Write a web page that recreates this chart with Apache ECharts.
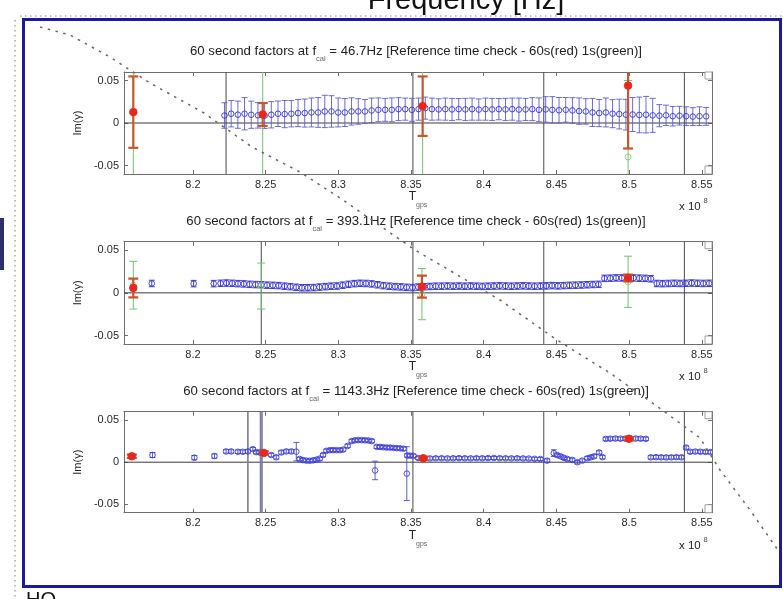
<!DOCTYPE html>
<html>
<head>
<meta charset="utf-8">
<script src="https://cdn.jsdelivr.net/npm/echarts@6/dist/echarts.min.js"></script>
<style>
html, body { margin: 0; padding: 0; background: #fff; }
#chart { width: 783px; height: 599px; }
</style>
</head>
<body>
<div id="chart"></div>
<script>
// ---- data (T_gps in units of 1e8 s, Im(gamma)) ----
const xTicks = [8.2, 8.25, 8.3, 8.35, 8.4, 8.45, 8.5, 8.55];
const yTicks = [-0.05, 0, 0.05];
const calFreqs = ['46.7', '393.1', '1143.3'];

// 60 s factors [T, Im, err] at 46.7 Hz
const blue1 = [
  [8.2217, 0.0088, 0.0150], [8.2263, 0.0109, 0.0155], [8.2309, 0.0098, 0.0160], [8.2355, 0.0109, 0.0190],
  [8.2401, 0.0097, 0.0160], [8.2447, 0.0090, 0.0150], [8.2493, 0.0086, 0.0150], [8.2539, 0.0097, 0.0155],
  [8.2585, 0.0109, 0.0150], [8.2631, 0.0105, 0.0160], [8.2677, 0.0109, 0.0155], [8.2723, 0.0117, 0.0160],
  [8.2769, 0.0117, 0.0165], [8.2815, 0.0124, 0.0170], [8.2861, 0.0124, 0.0175], [8.2907, 0.0136, 0.0190],
  [8.2953, 0.0136, 0.0185], [8.2999, 0.0124, 0.0170], [8.3045, 0.0124, 0.0165], [8.3091, 0.0136, 0.0160],
  [8.3137, 0.0136, 0.0150], [8.3183, 0.0136, 0.0140], [8.3229, 0.0148, 0.0145], [8.3275, 0.0155, 0.0140],
  [8.3322, 0.0155, 0.0135], [8.3368, 0.0155, 0.0140], [8.3414, 0.0163, 0.0135], [8.3460, 0.0163, 0.0130],
  [8.3506, 0.0155, 0.0135], [8.3552, 0.0163, 0.0130], [8.3598, 0.0175, 0.0130], [8.3644, 0.0163, 0.0130],
  [8.3690, 0.0160, 0.0125], [8.3736, 0.0163, 0.0130], [8.3782, 0.0160, 0.0130], [8.3828, 0.0163, 0.0125],
  [8.3874, 0.0160, 0.0130], [8.3920, 0.0163, 0.0130], [8.3966, 0.0158, 0.0125], [8.4012, 0.0163, 0.0130],
  [8.4058, 0.0160, 0.0130], [8.4104, 0.0163, 0.0125], [8.4150, 0.0160, 0.0130], [8.4196, 0.0163, 0.0130],
  [8.4242, 0.0158, 0.0135], [8.4288, 0.0160, 0.0130], [8.4334, 0.0163, 0.0135], [8.4380, 0.0155, 0.0140],
  [8.4426, 0.0160, 0.0150], [8.4472, 0.0155, 0.0155], [8.4518, 0.0150, 0.0150], [8.4564, 0.0155, 0.0145],
  [8.4610, 0.0148, 0.0150], [8.4656, 0.0140, 0.0155], [8.4702, 0.0136, 0.0150], [8.4748, 0.0124, 0.0165],
  [8.4794, 0.0117, 0.0160], [8.4840, 0.0124, 0.0170], [8.4886, 0.0110, 0.0165], [8.4932, 0.0105, 0.0175],
  [8.4978, 0.0098, 0.0180], [8.5024, 0.0100, 0.0200], [8.5070, 0.0095, 0.0210], [8.5116, 0.0098, 0.0215],
  [8.5162, 0.0090, 0.0200], [8.5208, 0.0086, 0.0130], [8.5254, 0.0090, 0.0120], [8.5300, 0.0080, 0.0115],
  [8.5346, 0.0086, 0.0110], [8.5392, 0.0080, 0.0110], [8.5438, 0.0075, 0.0105], [8.5484, 0.0080, 0.0110],
  [8.5530, 0.0078, 0.0105]
];
const red1 = [[8.1590, 0.0128, 0.042], [8.2480, 0.0100, 0.0135], [8.3580, 0.0198, 0.035], [8.4993, 0.0440, 0.074]];
const green1 = [[8.1590, 0.0130, 0.090], [8.2480, 0.0100, 0.100], [8.3580, 0.0200, 0.090], [8.4993, -0.0400, 0.090]];
const segLines1 = [8.2228, 8.3513, 8.4413, 8.5380];

// 60 s factors at 393.1 Hz
const blue2 = [
  [8.1717, 0.0110, 0.0038], [8.2005, 0.0108, 0.0038], [8.2143, 0.0108, 0.0038], [8.2190, 0.0112, 0.0038],
  [8.2230, 0.0115, 0.0038], [8.2270, 0.0112, 0.0038], [8.2310, 0.0108, 0.0038], [8.2350, 0.0105, 0.0038],
  [8.2390, 0.0100, 0.0038], [8.2430, 0.0097, 0.0038], [8.2470, 0.0095, 0.0038], [8.2510, 0.0090, 0.0038],
  [8.2550, 0.0088, 0.0038], [8.2590, 0.0085, 0.0038], [8.2630, 0.0078, 0.0038], [8.2670, 0.0073, 0.0038],
  [8.2710, 0.0065, 0.0038], [8.2750, 0.0060, 0.0038], [8.2790, 0.0060, 0.0038], [8.2830, 0.0062, 0.0038],
  [8.2870, 0.0068, 0.0038], [8.2910, 0.0073, 0.0038], [8.2950, 0.0078, 0.0038], [8.2990, 0.0080, 0.0038],
  [8.3030, 0.0090, 0.0038], [8.3070, 0.0100, 0.0038], [8.3110, 0.0108, 0.0038], [8.3150, 0.0112, 0.0038],
  [8.3190, 0.0110, 0.0038], [8.3230, 0.0105, 0.0038], [8.3270, 0.0095, 0.0038], [8.3310, 0.0085, 0.0038],
  [8.3350, 0.0078, 0.0038], [8.3390, 0.0073, 0.0038], [8.3430, 0.0070, 0.0038], [8.3470, 0.0065, 0.0038],
  [8.3510, 0.0062, 0.0038], [8.3550, 0.0068, 0.0038], [8.3590, 0.0072, 0.0038], [8.3630, 0.0075, 0.0038],
  [8.3670, 0.0078, 0.0038], [8.3710, 0.0078, 0.0038], [8.3750, 0.0080, 0.0038], [8.3790, 0.0078, 0.0038],
  [8.3830, 0.0080, 0.0038], [8.3870, 0.0078, 0.0038], [8.3910, 0.0080, 0.0038], [8.3950, 0.0078, 0.0038],
  [8.3990, 0.0076, 0.0038], [8.4030, 0.0078, 0.0038], [8.4070, 0.0080, 0.0038], [8.4110, 0.0082, 0.0038],
  [8.4150, 0.0080, 0.0038], [8.4190, 0.0078, 0.0038], [8.4230, 0.0080, 0.0038], [8.4270, 0.0082, 0.0038],
  [8.4310, 0.0080, 0.0038], [8.4350, 0.0078, 0.0038], [8.4390, 0.0080, 0.0038], [8.4430, 0.0082, 0.0038],
  [8.4470, 0.0085, 0.0038], [8.4510, 0.0082, 0.0038], [8.4550, 0.0085, 0.0038], [8.4590, 0.0088, 0.0038],
  [8.4630, 0.0090, 0.0038], [8.4670, 0.0092, 0.0038], [8.4710, 0.0095, 0.0038], [8.4750, 0.0098, 0.0038],
  [8.4790, 0.0100, 0.0038], [8.4830, 0.0170, 0.0038], [8.4870, 0.0172, 0.0038], [8.4910, 0.0175, 0.0038],
  [8.4950, 0.0175, 0.0038], [8.4990, 0.0178, 0.0038], [8.5030, 0.0175, 0.0038], [8.5070, 0.0172, 0.0038],
  [8.5110, 0.0170, 0.0038], [8.5150, 0.0165, 0.0038], [8.5190, 0.0110, 0.0038], [8.5230, 0.0108, 0.0038],
  [8.5270, 0.0110, 0.0038], [8.5310, 0.0112, 0.0038], [8.5350, 0.0110, 0.0038], [8.5390, 0.0112, 0.0038],
  [8.5430, 0.0115, 0.0038], [8.5470, 0.0112, 0.0038], [8.5510, 0.0110, 0.0038], [8.5550, 0.0112, 0.0038]
];
const red2 = [[8.1590, 0.0058, 0.011], [8.3575, 0.0073, 0.013], [8.4993, 0.0174, 0.004]];
const green2 = [[8.1590, 0.0090, 0.028], [8.2470, 0.0080, 0.027], [8.3575, -0.0015, 0.030], [8.4993, 0.0130, 0.030]];
const segLines2 = [8.2470, 8.3513, 8.4413, 8.5380];

// 60 s factors at 1143.3 Hz
const blue3 = [
  [8.1722, 0.0085, 0.0030], [8.2010, 0.0054, 0.0025], [8.2148, 0.0073, 0.0025], [8.2228, 0.0128, 0.0020],
  [8.2263, 0.0128, 0.0020], [8.2309, 0.0124, 0.0020], [8.2343, 0.0124, 0.0020], [8.2378, 0.0128, 0.0020],
  [8.2412, 0.0155, 0.0020], [8.2435, 0.0120, 0.0020], [8.2458, 0.0116, 0.0020], [8.2539, 0.0085, 0.0020],
  [8.2573, 0.0058, 0.0020], [8.2608, 0.0116, 0.0020], [8.2642, 0.0128, 0.0020], [8.2677, 0.0128, 0.0020],
  [8.2711, 0.0125, 0.0110], [8.2734, 0.0038, 0.0020], [8.2757, 0.0025, 0.0020], [8.2780, 0.0019, 0.0020],
  [8.2803, 0.0017, 0.0020], [8.2826, 0.0022, 0.0020], [8.2849, 0.0030, 0.0020], [8.2872, 0.0042, 0.0020],
  [8.2895, 0.0085, 0.0020], [8.2918, 0.0135, 0.0020], [8.2941, 0.0143, 0.0020], [8.2964, 0.0143, 0.0020],
  [8.2987, 0.0143, 0.0020], [8.3010, 0.0143, 0.0020], [8.3034, 0.0150, 0.0020], [8.3064, 0.0193, 0.0020],
  [8.3092, 0.0251, 0.0020], [8.3115, 0.0260, 0.0020], [8.3138, 0.0262, 0.0020], [8.3161, 0.0262, 0.0020],
  [8.3184, 0.0260, 0.0020], [8.3207, 0.0258, 0.0020], [8.3230, 0.0251, 0.0020], [8.3253, -0.0098, 0.0110],
  [8.3264, 0.0182, 0.0020], [8.3287, 0.0182, 0.0020], [8.3310, 0.0178, 0.0020], [8.3333, 0.0174, 0.0020],
  [8.3356, 0.0174, 0.0020], [8.3379, 0.0170, 0.0020], [8.3402, 0.0167, 0.0020], [8.3425, 0.0165, 0.0020],
  [8.3448, 0.0160, 0.0020], [8.3471, -0.0136, 0.0320], [8.3474, 0.0080, 0.0020], [8.3494, 0.0078, 0.0020],
  [8.3517, 0.0075, 0.0020], [8.3550, 0.0050, 0.0018], [8.3590, 0.0047, 0.0018], [8.3630, 0.0045, 0.0018],
  [8.3670, 0.0047, 0.0018], [8.3710, 0.0048, 0.0018], [8.3750, 0.0046, 0.0018], [8.3790, 0.0047, 0.0018],
  [8.3830, 0.0049, 0.0018], [8.3870, 0.0047, 0.0018], [8.3910, 0.0046, 0.0018], [8.3950, 0.0048, 0.0018],
  [8.3990, 0.0047, 0.0018], [8.4030, 0.0049, 0.0018], [8.4070, 0.0050, 0.0018], [8.4110, 0.0048, 0.0018],
  [8.4150, 0.0047, 0.0018], [8.4190, 0.0046, 0.0018], [8.4230, 0.0047, 0.0018], [8.4270, 0.0045, 0.0018],
  [8.4310, 0.0043, 0.0018], [8.4350, 0.0040, 0.0018], [8.4390, 0.0038, 0.0018], [8.4436, 0.0019, 0.0020],
  [8.4482, 0.0108, 0.0040], [8.4505, 0.0085, 0.0020], [8.4528, 0.0070, 0.0020], [8.4551, 0.0052, 0.0020],
  [8.4575, 0.0038, 0.0020], [8.4609, 0.0027, 0.0020], [8.4644, 0.0000, 0.0020], [8.4678, 0.0019, 0.0020],
  [8.4713, 0.0047, 0.0020], [8.4736, 0.0058, 0.0020], [8.4759, 0.0070, 0.0020], [8.4794, 0.0116, 0.0020],
  [8.4817, 0.0060, 0.0020], [8.4839, 0.0276, 0.0020], [8.4870, 0.0279, 0.0020], [8.4905, 0.0281, 0.0020],
  [8.4940, 0.0279, 0.0020], [8.4975, 0.0280, 0.0020], [8.5010, 0.0279, 0.0020], [8.5045, 0.0281, 0.0020],
  [8.5080, 0.0279, 0.0020], [8.5115, 0.0277, 0.0020], [8.5149, 0.0058, 0.0020], [8.5185, 0.0060, 0.0020],
  [8.5220, 0.0058, 0.0020], [8.5255, 0.0057, 0.0020], [8.5290, 0.0058, 0.0020], [8.5325, 0.0060, 0.0020],
  [8.5360, 0.0058, 0.0020], [8.5392, 0.0174, 0.0020], [8.5420, 0.0124, 0.0020], [8.5455, 0.0126, 0.0020],
  [8.5490, 0.0124, 0.0020], [8.5525, 0.0122, 0.0020], [8.5560, 0.0120, 0.0020]
];
const red3 = [[8.1580, 0.0070, 0.002], [8.2488, 0.0110, 0.002], [8.3584, 0.0047, 0.002], [8.4999, 0.0279, 0.002]];
const green3 = [[8.1580, 0.0070, 0.002], [8.2488, 0.0110, 0.002], [8.3584, 0.0047, 0.002], [8.4999, 0.0279, 0.002]];
const segLines3 = [8.3513, 8.4413, 8.5380];
const wideBars3 = [8.2378, 8.2465, 8.2475];

// ---- layout and styles ----
const X_MIN = 8.1526, X_MAX = 8.557, Y_MIN = -0.06, Y_MAX = 0.06;
const FONT = '"Liberation Sans", Arial, sans-serif';
const PLOT_LEFT = 124, PLOT_WIDTH = 588;
const PANEL_TOP = [72, 241.7, 411.7];
const PANEL_H = [102, 102.3, 101];

const panels = [
  { blue: blue1, red: red1, green: green1, seg: segLines1, wide: [] },
  { blue: blue2, red: red2, green: green2, seg: segLines2, wide: [] },
  { blue: blue3, red: red3, green: green3, seg: segLines3, wide: wideBars3 }
];

const BLUE_STYLE = [
  { bar: '#5a5ad8', width: 0.9, cap: 6, r: 2.8, stroke: '#3434d8', fill: 'none' },
  { bar: '#4040d4', width: 1, cap: 6, r: 2.8, stroke: '#3030d0', fill: 'none' },
  { bar: '#4a4ad8', width: 0.9, cap: 6, r: 2.8, stroke: '#3c3cd8', fill: 'none' }
];
const RED_STYLE = { bar: '#c9562b', width: 2.2, cap: 10, r: 3.8, stroke: '#e8281c', fill: '#e8281c' };
const GREEN_STYLE = { bar: '#6cc46c', width: 1, cap: 8, r: 3, stroke: '#86d086', fill: 'none' };

function errorBar(st) {
  return function (params, api) {
    const x = api.value(0), y = api.value(1), e = api.value(2);
    const c = api.coord([x, y]);
    const hi = api.coord([x, y + e]);
    const lo = api.coord([x, y - e]);
    const hw = st.cap / 2;
    const ls = { stroke: st.bar, lineWidth: st.width };
    return {
      type: 'group',
      children: [
        { type: 'line', shape: { x1: c[0], y1: hi[1], x2: c[0], y2: lo[1] }, style: ls },
        { type: 'line', shape: { x1: c[0] - hw, y1: hi[1], x2: c[0] + hw, y2: hi[1] }, style: ls },
        { type: 'line', shape: { x1: c[0] - hw, y1: lo[1], x2: c[0] + hw, y2: lo[1] }, style: ls },
        { type: 'circle', shape: { cx: c[0], cy: c[1], r: st.r },
          style: { fill: st.fill, stroke: st.stroke, lineWidth: 0.9 } }
      ]
    };
  };
}

function vLine(color, width) {
  return function (params, api) {
    const cs = params.coordSys;
    const p = api.coord([api.value(0), 0]);
    return { type: 'line', shape: { x1: p[0], y1: cs.y, x2: p[0], y2: cs.y + cs.height },
             style: { stroke: color, lineWidth: width } };
  };
}

function hLine(color, width) {
  return function (params, api) {
    const cs = params.coordSys;
    const p = api.coord([X_MIN, api.value(0)]);
    return { type: 'line', shape: { x1: cs.x, y1: p[1], x2: cs.x + cs.width, y2: p[1] },
             style: { stroke: color, lineWidth: width } };
  };
}

const fmtX = v => String(parseFloat(Number(v).toFixed(3)));
const fmtY = v => (Math.abs(v) < 1e-9 ? '0' : Number(v).toFixed(2));
const AX_COLOR = '#6e6e6e';

const grids = [], xAxes = [], yAxes = [], series = [];
panels.forEach((pn, i) => {
  grids.push({ left: PLOT_LEFT, top: PANEL_TOP[i], width: PLOT_WIDTH, height: PANEL_H[i], containLabel: false });
  const xBase = {
    type: 'value', gridIndex: i, min: X_MIN, max: X_MAX, splitLine: { show: false },
    axisLine: { show: true, onZero: false, lineStyle: { color: AX_COLOR, width: 1 } },
    axisTick: { show: true, inside: true, length: 4, customValues: xTicks, lineStyle: { color: AX_COLOR } }
  };
  xAxes.push(Object.assign({}, xBase, {
    position: 'bottom',
    axisLabel: { show: true, customValues: xTicks, formatter: fmtX, fontSize: 11, color: '#2a2a2a',
                 fontFamily: FONT, margin: 5 },
    name: '{t|T}{s|gps}', nameLocation: 'middle', nameGap: 16,
    nameTextStyle: { fontFamily: FONT, rich: {
      t: { fontSize: 12, color: '#222', fontFamily: FONT, verticalAlign: 'top' },
      s: { fontSize: 7, color: '#666', fontFamily: FONT, verticalAlign: 'bottom', padding: [11, 0, 0, 0] }
    } }
  }));
  xAxes.push(Object.assign({}, xBase, { position: 'top', axisLabel: { show: false } }));
  const yBase = {
    type: 'value', gridIndex: i, min: Y_MIN, max: Y_MAX, splitLine: { show: false },
    axisLine: { show: true, onZero: false, lineStyle: { color: AX_COLOR, width: 1 } },
    axisTick: { show: true, inside: true, length: 4, customValues: yTicks, lineStyle: { color: AX_COLOR } }
  };
  yAxes.push(Object.assign({}, yBase, {
    position: 'left',
    axisLabel: { show: true, customValues: yTicks, formatter: fmtY, fontSize: 11, color: '#2a2a2a',
                 fontFamily: FONT, margin: 5 },
    name: 'Im(γ)', nameLocation: 'middle', nameGap: 36, nameRotate: 90,
    nameTextStyle: { fontSize: 11, color: '#222', fontFamily: FONT }
  }));
  yAxes.push(Object.assign({}, yBase, { position: 'right', axisLabel: { show: false } }));

  const ax = { xAxisIndex: 2 * i, yAxisIndex: 2 * i };
  series.push(Object.assign({
    type: 'custom', name: 'zero' + i, clip: true, silent: true, z: 1,
    dimensions: ['y'], encode: { y: 'y' }, data: [[0]], renderItem: hLine('#3a3a3a', 1)
  }, ax));
  series.push(Object.assign({
    type: 'custom', name: 'segments' + i, clip: true, silent: true, z: 1,
    dimensions: ['x'], encode: { x: 'x' }, data: pn.seg.map(v => [v]), renderItem: vLine('#4a4a4a', 1)
  }, ax));
  if (pn.wide.length) {
    series.push(Object.assign({
      type: 'custom', name: 'wide' + i, clip: true, silent: true, z: 1,
      dimensions: ['x'], encode: { x: 'x' }, data: pn.wide.map(v => [v]), renderItem: vLine('#7a7aa6', 1.6)
    }, ax));
  }
  series.push(Object.assign({
    type: 'custom', name: 'blue' + i, clip: true, silent: true, z: 3,
    dimensions: ['x', 'y', 'e'], encode: { x: 'x', y: 'y' }, data: pn.blue, renderItem: errorBar(BLUE_STYLE[i])
  }, ax));
  series.push(Object.assign({
    type: 'custom', name: 'green' + i, clip: true, silent: true, z: 4,
    dimensions: ['x', 'y', 'e'], encode: { x: 'x', y: 'y' }, data: pn.green, renderItem: errorBar(GREEN_STYLE)
  }, ax));
  series.push(Object.assign({
    type: 'custom', name: 'red' + i, clip: true, silent: true, z: 5,
    dimensions: ['x', 'y', 'e'], encode: { x: 'x', y: 'y' }, data: pn.red, renderItem: errorBar(RED_STYLE)
  }, ax));
});

// titles, exponent notes and the figure frame
const graphics = [];
calFreqs.forEach((f, i) => {
  const top = PANEL_TOP[i], bottom = PANEL_TOP[i] + PANEL_H[i];
  graphics.push({
    type: 'text', x: PLOT_LEFT + PLOT_WIDTH / 2 - 2, y: top - 18, z: 20,
    style: {
      text: '{a|60 second factors at f}{s|cal}{a| = ' + f + 'Hz [Reference time check - 60s(red) 1s(green)]}',
      align: 'center', verticalAlign: 'middle',
      rich: {
        a: { fontSize: 13.2, fill: '#222', fontFamily: FONT, verticalAlign: 'top' },
        s: { fontSize: 7.5, fill: '#666', fontFamily: FONT, verticalAlign: 'bottom', padding: [10, 0, 0, 0] }
      }
    }
  });
  graphics.push({ type: 'text', x: 679, y: bottom + 33, z: 20,
    style: { text: 'x 10', fontSize: 11.5, fill: '#222', fontFamily: FONT, verticalAlign: 'middle' } });
  graphics.push({ type: 'text', x: 703.5, y: bottom + 27, z: 20,
    style: { text: '8', fontSize: 7.5, fill: '#444', fontFamily: FONT, verticalAlign: 'middle' } });
  // small boxes in the right-hand corners of each axes
  graphics.push({ type: 'rect', z: 20, shape: { x: PLOT_LEFT + PLOT_WIDTH - 7, y: top, width: 7, height: 7 },
    style: { fill: '#fff', stroke: '#8a8a8a', lineWidth: 0.8 } });
  graphics.push({ type: 'rect', z: 20, shape: { x: PLOT_LEFT + PLOT_WIDTH - 7, y: bottom - 8, width: 7, height: 8 },
    style: { fill: '#fff', stroke: '#8a8a8a', lineWidth: 0.8 } });
});

graphics.push(
  { type: 'text', x: 466, y: 15, z: 20,
    style: { text: 'Frequency [Hz]', fontSize: 29, fill: '#111', fontFamily: FONT, align: 'center', verticalAlign: 'bottom' } },
  { type: 'text', x: 26, y: 590, z: 20,
    style: { text: 'HO', fontSize: 20, fill: '#111', fontFamily: FONT, verticalAlign: 'top' } },
  { type: 'polyline', z: 20, shape: { points: [[20, 16], [783, 16]] },
    style: { stroke: '#8c8c8c', lineWidth: 1, lineDash: [1.5, 3.5], fill: null } },
  { type: 'polyline', z: 20, shape: { points: [[15, 20], [15, 599]] },
    style: { stroke: '#8c8c8c', lineWidth: 1.2, lineDash: [1.5, 3.5], fill: null } },
  { type: 'rect', z: 20, shape: { x: 0, y: 218, width: 4, height: 52 }, style: { fill: '#2c2f6c' } },
  { type: 'rect', z: 21, shape: { x: 23.5, y: 19.5, width: 757, height: 567 },
    style: { fill: null, stroke: '#1a1a9c', lineWidth: 3 } },
  { type: 'polyline', z: 22,
    shape: { points: [[40, 27], [70, 35], [110, 57], [150, 83], [204, 113], [252, 147], [300, 172], [343, 200],
                      [415, 250], [500, 300], [557, 340], [610, 373], [658, 407], [700, 438], [720, 470],
                      [750, 510], [780, 553]] },
    style: { stroke: '#666666', lineWidth: 1.5, lineDash: [2.5, 5.5], fill: null } }
);

const chart = echarts.init(document.getElementById('chart'), null, { renderer: 'canvas' });
chart.setOption({
  animation: false,
  backgroundColor: '#ffffff',
  grid: grids,
  xAxis: xAxes,
  yAxis: yAxes,
  series: series,
  graphic: { elements: graphics }
});
</script>
</body>
</html>
